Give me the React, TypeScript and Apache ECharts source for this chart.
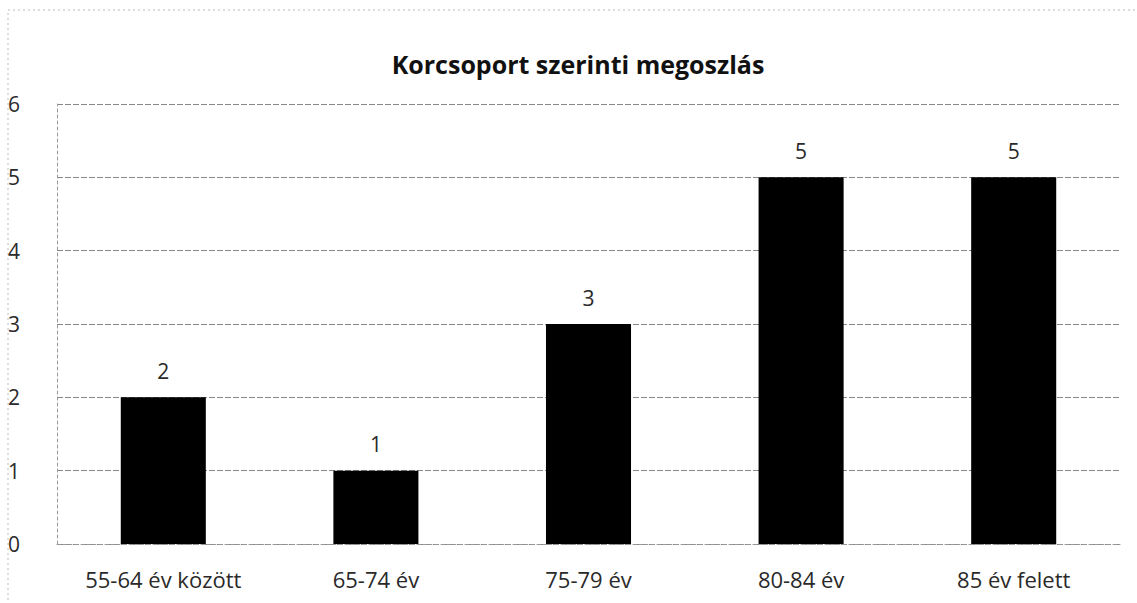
import React, { useEffect, useRef } from "react";
import * as echarts from "echarts";

const title = "Korcsoport szerinti megoszlás";
const categories = ["55-64 év között", "65-74 év", "75-79 év", "80-84 év", "85 év felett"];
const values = [2, 1, 3, 5, 5];
const yTicks = { min: 0, max: 6, interval: 1 };

export default function App() {
  const ref = useRef<HTMLDivElement>(null);
  useEffect(() => {
    const chart = echarts.init(ref.current!, null, { renderer: "svg" });
    const font = "'Open Sans', 'DejaVu Sans', sans-serif";
    chart.setOption({
      animation: false,
      backgroundColor: "#ffffff",
      title: {
        text: title,
        left: 573,
        top: 46,
        textAlign: "center",
        textStyle: { fontFamily: font, fontSize: 25, fontWeight: "bold", color: "#111" },
      },
      graphic: [
        {
          type: "rect",
          shape: { x: 8, y: 10, width: 1160, height: 620 },
          style: { fill: "none", stroke: "#bbb", lineWidth: 1, lineDash: [2, 3] },
          silent: true,
        },
      ],
      grid: { left: 57, right: 17, top: 104, bottom: 59 },
      xAxis: {
        type: "category",
        data: categories,
        axisLine: { show: true, lineStyle: { color: "#999", type: [3, 3] } },
        axisTick: { show: false },
        axisLabel: { fontFamily: font, fontSize: 22, color: "#2a2a2a", margin: 24 },
      },
      yAxis: {
        type: "value",
        min: yTicks.min,
        max: yTicks.max,
        interval: yTicks.interval,
        axisLine: { show: true, lineStyle: { color: "#999", type: [3, 3] } },
        axisTick: { show: false },
        splitLine: { show: true, lineStyle: { color: "#888", type: [6, 2] } },
        axisLabel: { fontFamily: font, fontSize: 21, color: "#2a2a2a", margin: 37 },
      },
      series: [
        {
          type: "bar",
          data: values,
          barWidth: "40%",
          itemStyle: { color: "#000" },
          label: {
            show: true,
            position: "top",
            distance: 16,
            fontFamily: font,
            fontSize: 21,
            color: "#2a2a2a",
          },
        },
      ],
    });
    return () => chart.dispose();
  }, []);
  return (
    <div
      ref={ref}
      style={{ position: "fixed", left: 0, top: 0, width: 1137, height: 603 }}
    />
  );
}
